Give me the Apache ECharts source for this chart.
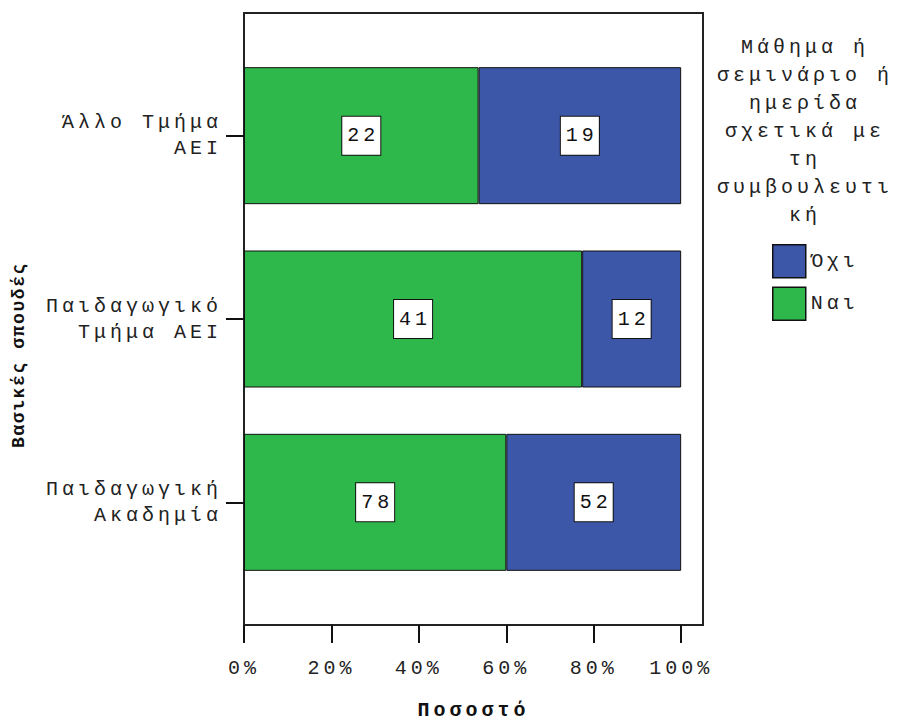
<!DOCTYPE html>
<html>
<head>
<meta charset="utf-8">
<script src="https://cdn.jsdelivr.net/npm/echarts@6/dist/echarts.min.js"></script>
<style>
  html, body { margin: 0; padding: 0; background: #fff; }
  #chart { width: 902px; height: 720px; }
  #chart text { letter-spacing: 4px; }
  /* tighter tracking for the vertical axis title (weight 800) */
  #chart text[style*="800"], #chart text[font-weight="800"] { letter-spacing: 1.6px; }
</style>
</head>
<body>
<div id="chart"></div>
<script>
// Categories, top to bottom
const categories = ['Άλλο Τμήμα\nΑΕΙ', 'Παιδαγωγικό\nΤμήμα ΑΕΙ', 'Παιδαγωγική\nΑκαδημία'];
// Counts per answer
const yesCounts = [22, 41, 78];   // Ναι
const noCounts = [19, 12, 52];    // Όχι
const seriesNames = ['Ναι', 'Όχι'];
const xTicks = [0, 20, 40, 60, 80, 100];
const legendTitle = 'Μάθημα ή\nσεμινάριο ή\nημερίδα\nσχετικά με\nτη\nσυμβουλευτι\nκή';
const xTitle = 'Ποσοστό';
const yTitle = 'Βασικές σπουδές';

const totals = yesCounts.map((v, i) => v + noCounts[i]);
const toPct = (arr) => arr.map((v, i) => ({ value: v / totals[i] * 100, count: v }));

const FONT = 'Liberation Mono';
const FS = 20;
const GREEN = '#2eb84b';
const BLUE = '#3c57a8';

const valueLabel = {
  show: true,
  position: 'inside',
  formatter: (p) => String(p.data.count),
  fontFamily: FONT,
  fontSize: FS,
  color: '#111',
  backgroundColor: '#fff',
  borderColor: '#111',
  borderWidth: 1,
  width: 30,
  height: 38,
  lineHeight: 38,
  align: 'center',
  padding: [0, 2, 0, 6]
};

const chart = echarts.init(document.getElementById('chart'), null, { renderer: 'svg' });
chart.setOption({
  animation: false,
  backgroundColor: '#fff',
  grid: [
    { left: 244, top: 13, width: 459, height: 612, outerBoundsMode: 'none', containLabel: false,
      show: true, borderColor: '#222', borderWidth: 2, backgroundColor: 'transparent' },
    { left: 244, top: 44, width: 459, height: 550, outerBoundsMode: 'none', containLabel: false }
  ],
  xAxis: [
    {
      gridIndex: 0, type: 'value', min: 0, max: 105,
      axisLine: { show: true, lineStyle: { color: '#222', width: 2 } },
      axisTick: { show: true, length: 18, customValues: xTicks, lineStyle: { color: '#111', width: 2 } },
      axisLabel: { customValues: xTicks, formatter: '{value}%', margin: 33, fontFamily: FONT, fontSize: FS, color: '#222' },
      splitLine: { show: false },
      name: xTitle, nameLocation: 'middle', nameGap: 75,
      nameTextStyle: { fontFamily: FONT, fontSize: FS, fontWeight: 'bold', color: '#111' }
    },
    { gridIndex: 1, type: 'value', min: 0, max: 105, show: false }
  ],
  yAxis: [
    { gridIndex: 0, type: 'value', min: 0, max: 1, show: false },
    {
      gridIndex: 1, type: 'category', data: categories, inverse: true,
      axisLine: { show: false },
      axisTick: { show: true, alignWithLabel: true, length: 18, lineStyle: { color: '#111', width: 2 } },
      axisLabel: {
        margin: 22, fontFamily: FONT, fontSize: FS, color: '#222',
        lineHeight: 26, padding: [26, 0, 0, 0], align: 'right'
      }
    }
  ],
  legend: {
    orient: 'vertical', left: 767, top: 239,
    itemWidth: 33, itemHeight: 33, itemGap: 8,
    data: ['Όχι', 'Ναι'],
    icon: 'rect',
    itemStyle: { borderColor: '#111', borderWidth: 1.5 },
    textStyle: { fontFamily: FONT, fontSize: FS, color: '#222', padding: [8, 0, 0, 0] }
  },
  graphic: [
    {
      type: 'text', x: 805, y: 33,
      style: { text: legendTitle, align: 'center', verticalAlign: 'top', fontFamily: FONT, fontSize: FS, lineHeight: 28, fill: '#222' }
    },
    {
      type: 'text', x: 19, y: 355, rotation: Math.PI / 2,
      style: { text: yTitle, align: 'center', verticalAlign: 'middle', fontFamily: FONT, fontSize: 18, fontWeight: 800, fill: '#111' }
    }
  ],
  series: [
    {
      name: seriesNames[0], type: 'bar', stack: 'all', xAxisIndex: 1, yAxisIndex: 1,
      barWidth: 137, data: toPct(yesCounts),
      itemStyle: { color: GREEN, borderColor: '#111', borderWidth: 1 },
      label: valueLabel
    },
    {
      name: seriesNames[1], type: 'bar', stack: 'all', xAxisIndex: 1, yAxisIndex: 1,
      barWidth: 137, data: toPct(noCounts),
      itemStyle: { color: BLUE, borderColor: '#111', borderWidth: 1 },
      label: valueLabel
    }
  ]
});
</script>
</body>
</html>
